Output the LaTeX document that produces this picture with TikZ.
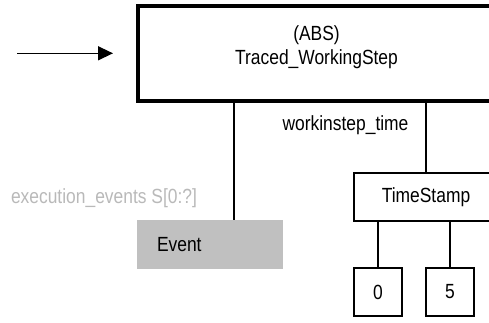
\documentclass[tikz,border=0pt]{standalone}
\usepackage{fontspec}
\setmainfont{Liberation Sans}[FakeStretch=0.85]
\usetikzlibrary{arrows.meta}
\definecolor{lbl}{RGB}{185,185,185}
\definecolor{evfill}{RGB}{192,192,192}
\begin{document}
\begin{tikzpicture}[x=1pt,y=-1pt,
  every node/.style={font=\fontsize{20.5}{24}\selectfont, inner sep=0pt, outer sep=0pt},
  mainbox/.style={draw=black, line width=4pt, minimum width=357pt, minimum height=94.5pt},
  entbox/.style={draw=black, line width=1.6pt, minimum width=144pt, minimum height=48pt},
  valbox/.style={draw=black, line width=1.6pt, minimum width=48pt, minimum height=48pt},
  evbox/.style={fill=evfill, minimum width=146pt, minimum height=49pt},
  conn/.style={line width=1.8pt},
  txt/.style={text=black},
  greytxt/.style={text=lbl}]
\useasboundingbox (0,0) rectangle (489,322);
\clip (0,0) rectangle (489,322);
% main entity
\node[mainbox] (main) at (316.5,53.25) {};
\node[txt, align=center] (maintxt) at (316.5,47.5) {(ABS)\\Traced\_WorkingStep};
% incoming arrow
\coordinate (src) at (17,53.3);
\draw[line width=1.4pt, -{Triangle[length=15pt,width=14pt]}, shorten >=25pt] (src) -- (main.west |- src);
% event
\node[evbox] (event) at (210,244.5) {};
\node[txt, anchor=west] (eventtxt) at (157,245) {Event};
\node[greytxt] (evlbl) at (104,198) {execution\_events S[0:?]};
% timestamp
\node[entbox] (ts) at (426,197) {TimeStamp};
\node[txt] (wtlbl) at (345.5,125) {workinstep\_time};
\node[valbox] (v0) at (378,292) {0};
\node[valbox] (v5) at (450,292) {5};
% connectors
\coordinate (m1) at (234,100.5);
\coordinate (m2) at (426,100.5);
\draw[conn] (m1) -- (event.north -| m1);
\draw[conn] (m2) -- (ts.north);
\draw[conn] (ts.south -| v0) -- (v0.north);
\draw[conn] (ts.south -| v5) -- (v5.north);
\end{tikzpicture}
\end{document}
